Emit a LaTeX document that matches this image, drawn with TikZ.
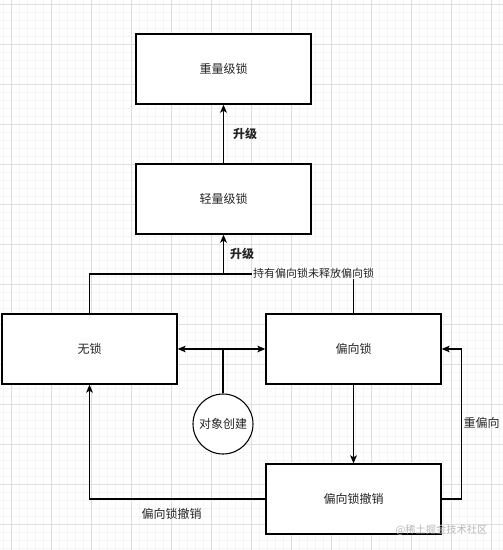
\documentclass[tikz,border=0pt]{standalone}
\usepackage{fontspec}
\setmainfont{Noto Sans CJK SC}
\usetikzlibrary{arrows.meta}
\begin{document}
\begin{tikzpicture}[x=0.75pt,y=-0.75pt,
  every node/.style={font=\fontsize{9pt}{11pt}\selectfont, text=black!85},
  box/.style={draw=black, line width=1pt, fill=white, minimum width=131.25pt, minimum height=52.5pt, inner sep=0pt},
  roundbox/.style={draw=black, line width=0.8pt, fill=white, circle, minimum size=45pt, inner sep=0pt},
  conn/.style={draw=black, line width=1pt},
  arr/.style={conn, -{Stealth[length=6pt,width=5pt,inset=1.5pt]}},
  lbl/.style={fill=white, inner sep=1pt},
  minor/.style={draw=black!4, line width=0.4pt},
  major/.style={draw=black!13, line width=0.6pt}]
\useasboundingbox (0,0) rectangle (503,550);
\fill[white] (0,0) rectangle (503,550);
% grid
\foreach \i in {0,...,62} {\draw[minor] ({3.7+8*\i},0) -- ({3.7+8*\i},550);}
\foreach \i in {0,...,68} {\draw[minor] (0,{4.3+8*\i}) -- (503,{4.3+8*\i});}
\foreach \i in {0,...,12} {\draw[major] ({11.7+40*\i},0) -- ({11.7+40*\i},550);}
\foreach \i in {0,...,13} {\draw[major] (0,{4.3+40*\i}) -- (503,{4.3+40*\i});}
% nodes
\node[box] (heavy) at (223.5,69) {重量级锁};
\node[box] (light) at (223.5,199) {轻量级锁};
\node[box] (nolock) at (89.5,349) {无锁};
\node[box] (biased) at (353.5,349) {偏向锁};
\node[box] (revoke) at (353.5,499) {偏向锁撤销};
\node[roundbox] (create) at (223,424) {对象创建};
\coordinate (join) at (223.5,274);
\coordinate (mid) at (223,349);
% connectors
\draw[arr] (light.north) -- (heavy.south);
\node[font=\fontsize{9pt}{11pt}\selectfont\bfseries] (up1) at (245,134) {升级};
\draw[conn] (nolock.north) |- (join);
\draw[conn] (biased.north) |- (join);
\draw[arr] (join) -- (light.south);
\node[font=\fontsize{9pt}{11pt}\selectfont\bfseries] (up2) at (242,254) {升级};
\node[lbl, font=\fontsize{8.25pt}{10pt}\selectfont] (hold) at (313.5,273) {持有偏向锁未释放偏向锁};
\draw[conn, {Stealth[length=6pt,width=5pt,inset=1.5pt]}-{Stealth[length=6pt,width=5pt,inset=1.5pt]}] (nolock.east) -- (biased.west);
\draw[conn] (create.north) -- (mid);
\draw[arr] (biased.south) -- (revoke.north);
\draw[arr] (revoke.east) -- ++(20,0) |- (biased.east);
\node (rebias) at (481.5,423) {重偏向};
\draw[arr] (revoke.west) -| (nolock.south);
\node (revlbl) at (171.7,514) {偏向锁撤销};
\node[text=black!28, font=\fontsize{7.7pt}{9pt}\selectfont] (wm) at (441.5,530) {@稀土掘金技术社区};
\end{tikzpicture}
\end{document}
